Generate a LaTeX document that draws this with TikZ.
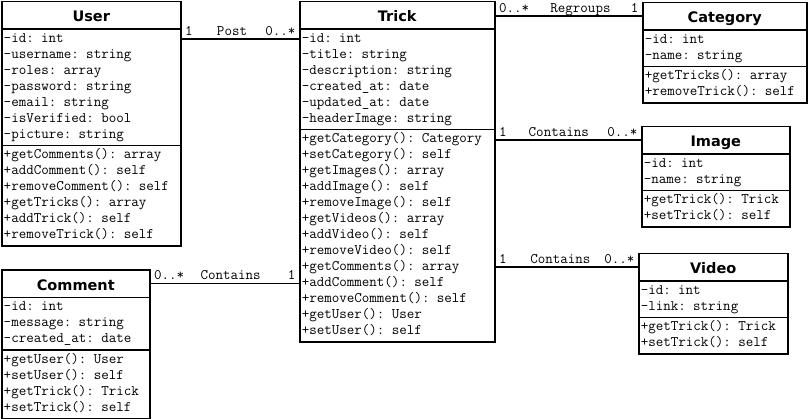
\documentclass[tikz,border=0pt]{standalone}
\usepackage{fontspec}
\newfontfamily\classfont{DejaVu Sans}
\usetikzlibrary{shapes.multipart,calc}
\setlength{\parindent}{0pt}
\newcommand{\membersize}{\fontsize{14.6}{16}\selectfont\ttfamily}
\newcommand{\classname}[1]{\hbox to \hsize{\hss\rule[-4.9pt]{0pt}{22.6pt}{\fontsize{14.5}{16}\selectfont\classfont\bfseries #1}\hss}}
\newcommand{\members}[1]{\begin{tabular}{@{}l@{}}#1\end{tabular}}

\begin{document}
\begin{tikzpicture}[x=1pt, y=-1pt,
  umlclass/.style={draw, line width=1.5pt, rectangle split, rectangle split parts=3,
    text width=#1, inner xsep=2pt, inner ysep=1.5pt, anchor=north west, font=\membersize},
  assoc/.style={line width=1.3pt},
  mult/.style={font=\membersize, inner xsep=3pt, inner ysep=1pt, text depth=2pt}]
\useasboundingbox (0,0) rectangle (809,419);
% Classes
\node[umlclass=175pt] (user) at (1,1) {\classname{User}
  \nodepart{two}\members{-id: int\\-username: string\\-roles: array\\-password: string\\-email: string\\-isVerified: bool\\-picture: string}
  \nodepart{three}\members{+getComments(): array\\+addComment(): self\\+removeComment(): self\\+getTricks(): array\\+addTrick(): self\\+removeTrick(): self}};
\node[umlclass=191pt] (trick) at (299,1) {\classname{Trick}
  \nodepart{two}\members{-id: int\\-title: string\\-description: string\\-created\_at: date\\-updated\_at: date\\-headerImage: string}
  \nodepart{three}\members{+getCategory(): Category\\+setCategory(): self\\+getImages(): array\\+addImage(): self\\+removeImage(): self\\+getVideos(): array\\+addVideo(): self\\+removeVideo(): self\\+getComments(): array\\+addComment(): self\\+removeComment(): self\\+getUser(): User\\+setUser(): self}};
\node[umlclass=160pt] (category) at (642,2) {\classname{Category}
  \nodepart{two}\members{-id: int\\-name: string}
  \nodepart{three}\members{+getTricks(): array\\+removeTrick(): self}};
\node[umlclass=144pt] (image) at (641,126) {\classname{Image}
  \nodepart{two}\members{-id: int\\-name: string}
  \nodepart{three}\members{+getTrick(): Trick\\+setTrick(): self}};
\node[umlclass=145pt] (video) at (638,253) {\classname{Video}
  \nodepart{two}\members{-id: int\\-link: string}
  \nodepart{three}\members{+getTrick(): Trick\\+setTrick(): self}};
\node[umlclass=144pt] (comment) at (1,269.5) {\classname{Comment}
  \nodepart{two}\members{-id: int\\-message: string\\-created\_at: date}
  \nodepart{three}\members{+getUser(): User\\+setUser(): self\\+getTrick(): Trick\\+setTrick(): self}};
% Associations
\coordinate (post) at ($(user.north east)+(0,38)$);
\draw[assoc] (post) -- (post -| trick.west)
  node[mult, pos=0, anchor=south west] {1}
  node[mult, pos=0.43, anchor=south] {Post}
  node[mult, pos=1, anchor=south east] {0..*};
\coordinate (regroups) at ($(trick.north east)+(0,15)$);
\draw[assoc] (regroups) -- (regroups -| category.west)
  node[mult, pos=0, anchor=south west] {0..*}
  node[mult, pos=0.58, anchor=south] {Regroups}
  node[mult, pos=1, anchor=south east] {1};
\coordinate (hasimage) at ($(image.north west)+(0,14)$);
\draw[assoc] (trick.east |- hasimage) -- (hasimage)
  node[mult, pos=0, anchor=south west] {1}
  node[mult, pos=0.435, anchor=south] {Contains}
  node[mult, pos=1, anchor=south east] {0..*};
\coordinate (hasvideo) at ($(video.north west)+(0,14)$);
\draw[assoc] (trick.east |- hasvideo) -- (hasvideo)
  node[mult, pos=0, anchor=south west] {1}
  node[mult, pos=0.455, anchor=south] {Contains}
  node[mult, pos=1, anchor=south east] {0..*};
\coordinate (hascomment) at ($(comment.north east)+(0,14)$);
\draw[assoc] (hascomment) -- (hascomment -| trick.west)
  node[mult, pos=0, anchor=south west] {0..*}
  node[mult, pos=0.54, anchor=south] {Contains}
  node[mult, pos=1, anchor=south east] {1};
\end{tikzpicture}
\end{document}
